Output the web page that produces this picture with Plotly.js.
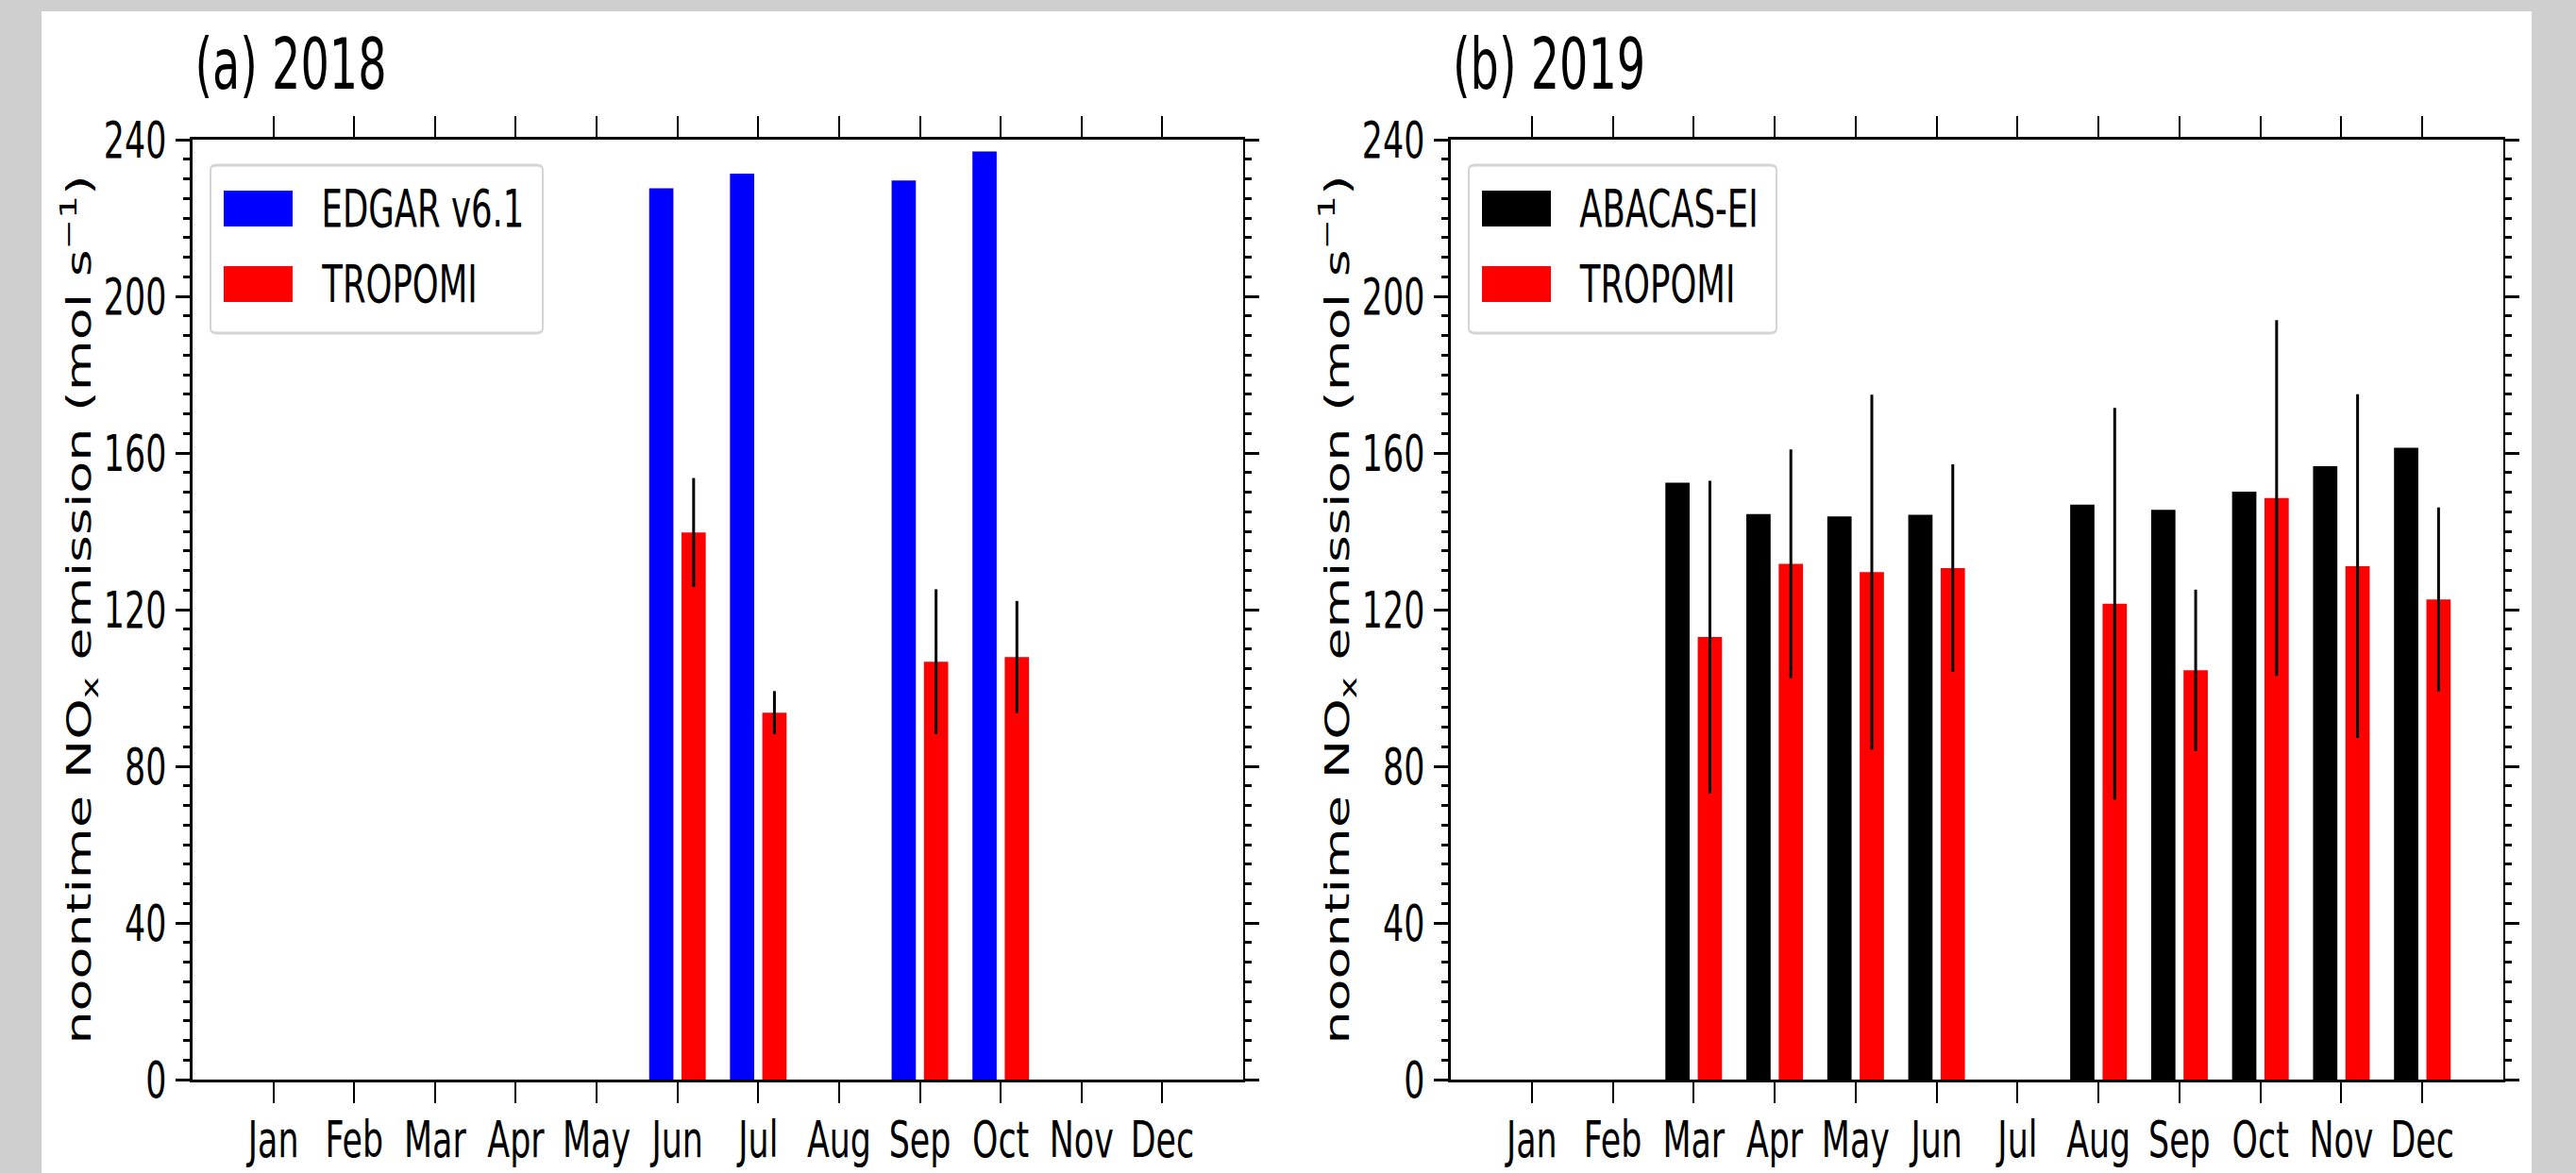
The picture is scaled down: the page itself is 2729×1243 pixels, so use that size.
<!DOCTYPE html>
<html>
<head>
<meta charset="utf-8">
<script src="https://cdn.plot.ly/plotly-3.0.1.min.js"></script>
<style>
  html, body { margin: 0; padding: 0; background: #d0cfd0; overflow: hidden; }
  #wrap { width: 2729px; height: 1243px; overflow: hidden; position: relative; }
  /* the reference figure is horizontally compressed; reproduce that by squeezing the drawing */
  #chart { width: 4231px; height: 1243px; transform: scaleX(0.645); transform-origin: 0 0; }
</style>
</head>
<body>
<div id="wrap"><div id="chart"></div></div>
<script>
// ---------------- data ----------------
const months = ['Jan','Feb','Mar','Apr','May','Jun','Jul','Aug','Sep','Oct','Nov','Dec'];
const yTicks = [0, 40, 80, 120, 160, 200, 240];

// (a) 2018
const edgar2018      = [null, null, null, null, null, 227.6, 231.3, null, 229.6, 237.0, null, null];
const tropomi2018    = [null, null, null, null, null, 139.7,  93.7, null, 106.7, 107.9, null, null];
const tropomi2018Err = [null, null, null, null, null,  13.9,   5.5, null,  18.5,  14.3, null, null];

// (b) 2019
const abacas2019     = [null, null, 152.4, 144.4, 143.8, 144.2, null, 146.8, 145.5, 150.1, 156.6, 161.3];
const tropomi2019    = [null, null, 113.0, 131.7, 129.6, 130.6, null, 121.5, 104.5, 148.5, 131.1, 122.6];
const tropomi2019Err = [null, null,  39.9,  29.2,  45.3,  26.5, null,  50.0,  20.6,  45.4,  43.9,  23.5];

const seriesNamesA = ['EDGAR v6.1', 'TROPOMI'];
const seriesNamesB = ['ABACAS-EI', 'TROPOMI'];
const panelTitles  = ['(a) 2018', '(b) 2019'];
const yTitle = 'noontime NO<sub>x</sub> emission (mol s<sup>\u22121</sup>)';

// ---------------- style ----------------
const W = 2729, H = 1243;          // final picture size
const S = 0.645;                   // horizontal squeeze applied by CSS
const WPRE = Math.round(W / S);    // drawing width before the squeeze
const px = x => x / W;             // picture x (px) -> paper fraction
const py = y => 1 - y / H;         // picture y (px) -> paper fraction
const FONT = 'DejaVu Sans, sans-serif';
const BLUE = '#0000ff', RED = '#ff0000', BLACK = '#000000';
const BAR_W = 0.3;

function barTrace(y, name, color, offset, xa, ya, err) {
  const t = {
    type: 'bar', x: months, y: y, name: name,
    xaxis: xa, yaxis: ya,
    width: BAR_W, offset: offset,
    marker: { color: color, line: { width: 0 } }
  };
  if (err) {
    t.error_y = { type: 'data', array: err, visible: true, color: BLACK, thickness: 3 / S, width: 0 };
  }
  return t;
}

const data = [
  barTrace(edgar2018,   seriesNamesA[0], BLUE,  -0.35, 'x',  'y'),
  barTrace(tropomi2018, seriesNamesA[1], RED,    0.05, 'x',  'y',  tropomi2018Err),
  barTrace(abacas2019,  seriesNamesB[0], BLACK, -0.35, 'x2', 'y2'),
  barTrace(tropomi2019, seriesNamesB[1], RED,    0.05, 'x2', 'y2', tropomi2019Err)
];

function xAxis(domain, anchor) {
  return {
    domain: domain, anchor: anchor,
    type: 'category', categoryorder: 'array', categoryarray: months,
    range: [-1, 12], fixedrange: true,
    showgrid: false, zeroline: false,
    showline: true, linecolor: BLACK, linewidth: 3, mirror: 'allticks',
    ticks: 'outside', ticklen: 22, tickwidth: 2 / S, tickcolor: BLACK,
    tickangle: 0, ticklabelstandoff: -8,
    tickfont: { family: FONT, size: 54, color: BLACK }
  };
}
function yAxis(domain, anchor) {
  return {
    domain: domain, anchor: anchor,
    range: [0, 240], fixedrange: true,
    tickmode: 'array', tickvals: yTicks, ticktext: yTicks.map(String),
    showgrid: false, zeroline: false,
    showline: true, linecolor: BLACK, linewidth: 2.5 / S, mirror: 'allticks',
    ticks: 'outside', ticklen: 15 / S, tickwidth: 3, tickcolor: BLACK,
    ticklabelstandoff: 5,
    minor: { tickmode: 'linear', tick0: 0, dtick: 5, ticks: 'outside', ticklen: 7 / S, tickwidth: 3, tickcolor: BLACK, showgrid: false },
    tickfont: { family: FONT, size: 54, color: BLACK },
    title: { text: yTitle, standoff: 3, font: { family: FONT, size: 55.5, color: BLACK } }
  };
}

const yDom = [py(1144), py(148)];

// legend boxes drawn as rounded paths in paper coordinates
function roundedBox(x0, y0, x1, y1, r) {
  const X = v => px(v).toFixed(6), Y = v => py(v).toFixed(6);
  const ry = r * 0.7;
  return 'M' + X(x0 + r) + ',' + Y(y0) +
    ' L' + X(x1 - r) + ',' + Y(y0) + ' Q' + X(x1) + ',' + Y(y0) + ' ' + X(x1) + ',' + Y(y0 + ry) +
    ' L' + X(x1) + ',' + Y(y1 - ry) + ' Q' + X(x1) + ',' + Y(y1) + ' ' + X(x1 - r) + ',' + Y(y1) +
    ' L' + X(x0 + r) + ',' + Y(y1) + ' Q' + X(x0) + ',' + Y(y1) + ' ' + X(x0) + ',' + Y(y1 - ry) +
    ' L' + X(x0) + ',' + Y(y0 + ry) + ' Q' + X(x0) + ',' + Y(y0) + ' ' + X(x0 + r) + ',' + Y(y0) + ' Z';
}

function legendItems(boxLeft, boxRight, names, colors) {
  const shapes = [{
    type: 'path', xref: 'paper', yref: 'paper', layer: 'above',
    path: roundedBox(boxLeft, 175, boxRight, 353, 7),
    fillcolor: 'rgba(255,255,255,0.85)', line: { color: '#d4d4d4', width: 3 }
  }];
  const anns = [];
  const rowsTop = [202, 282];
  names.forEach((n, i) => {
    shapes.push({
      type: 'rect', xref: 'paper', yref: 'paper', layer: 'above',
      x0: px(boxLeft + 14), x1: px(boxLeft + 87),
      y0: py(rowsTop[i] + 38), y1: py(rowsTop[i]),
      fillcolor: colors[i], line: { width: 0 }
    });
    anns.push({
      xref: 'paper', yref: 'paper', x: px(boxLeft + 116), y: py(rowsTop[i] + 19),
      xanchor: 'left', yanchor: 'middle', showarrow: false,
      text: n, font: { family: FONT, size: 55, color: BLACK }
    });
  });
  return { shapes, anns };
}

const legA = legendItems(223, 575, seriesNamesA, [BLUE, RED]);
const legB = legendItems(1556, 1882, seriesNamesB, [BLACK, RED]);

const layout = {
  width: WPRE, height: H,
  margin: { l: 0, r: 0, t: 0, b: 0, pad: 0 },
  paper_bgcolor: '#d0cfd0',
  plot_bgcolor: '#ffffff',
  barmode: 'overlay',
  showlegend: false,
  xaxis:  xAxis([px(204),  px(1317)], 'y'),
  yaxis:  yAxis(yDom, 'x'),
  xaxis2: xAxis([px(1537), px(2652)], 'y2'),
  yaxis2: yAxis(yDom, 'x2'),
  shapes: [
    { type: 'rect', xref: 'paper', yref: 'paper', layer: 'below',
      x0: px(44), x1: px(2682), y0: 0, y1: py(12),
      fillcolor: '#ffffff', line: { width: 0 } }
  ].concat(legA.shapes, legB.shapes),
  annotations: [
    { xref: 'paper', yref: 'paper', x: px(205), y: py(113), xanchor: 'left', yanchor: 'bottom',
      showarrow: false, text: panelTitles[0], font: { family: FONT, size: 74, color: BLACK } },
    { xref: 'paper', yref: 'paper', x: px(1538), y: py(113), xanchor: 'left', yanchor: 'bottom',
      showarrow: false, text: panelTitles[1], font: { family: FONT, size: 74, color: BLACK } }
  ].concat(legA.anns, legB.anns)
};

Plotly.newPlot('chart', data, layout, { displayModeBar: false, staticPlot: true });
</script>
</body>
</html>
